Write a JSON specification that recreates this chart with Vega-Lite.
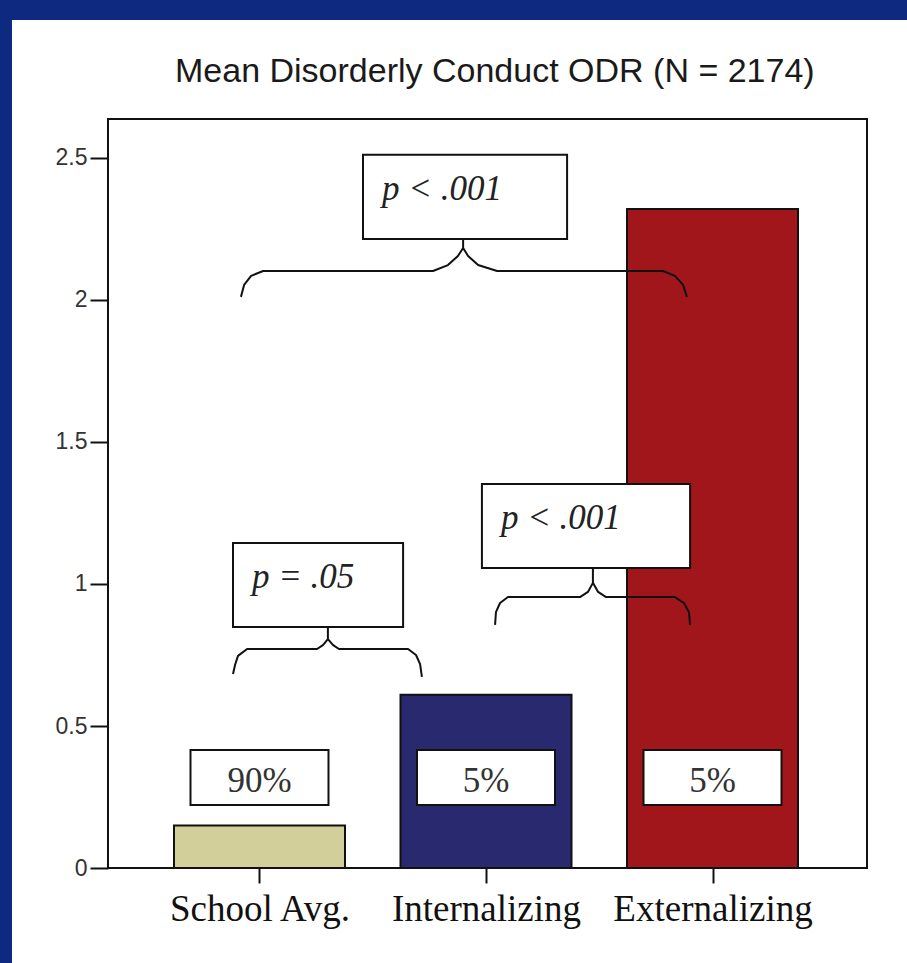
{
  "$schema": "https://vega.github.io/schema/vega-lite/v6.json",
  "width": 895,
  "height": 943,
  "autosize": {"type": "none"},
  "padding": {"left": 12, "top": 20, "right": 0, "bottom": 0},
  "background": "#0d2a80",
  "config": {"view": {"fill": "white", "stroke": null}},
  "title": {
    "text": "Mean Disorderly Conduct ODR  (N = 2174)",
    "anchor": "start",
    "frame": "group",
    "align": "left",
    "dx": 163,
    "dy": 96,
    "offset": 0,
    "baseline": "alphabetic",
    "font": "Liberation Sans",
    "fontSize": 34,
    "fontWeight": "normal",
    "color": "#1a1a1a"
  },
  "datasets": {
    "bars": [
      {"group": "School Avg.", "pos": 1, "mean": 0.15, "pct": "90%"},
      {"group": "Internalizing", "pos": 2, "mean": 0.61, "pct": "5%"},
      {"group": "Externalizing", "pos": 3, "mean": 2.32, "pct": "5%"}
    ],
    "tests": [
      {"comparison": "School Avg. vs Internalizing", "label": "p = .05", "xmin": 0.883, "xmax": 1.634, "ymin": 0.849, "ymax": 1.144},
      {"comparison": "Internalizing vs Externalizing", "label": "p < .001", "xmin": 1.982, "xmax": 2.901, "ymin": 1.056, "ymax": 1.352},
      {"comparison": "School Avg. vs Externalizing", "label": "p < .001", "xmin": 1.457, "xmax": 2.358, "ymin": 2.215, "ymax": 2.511}
    ],
    "braces": [
      {"brace": "A", "ord": 1, "x": 0.918, "y": 2.011},
      {"brace": "A", "ord": 2, "x": 0.932, "y": 2.053},
      {"brace": "A", "ord": 3, "x": 0.963, "y": 2.085},
      {"brace": "A", "ord": 4, "x": 1.016, "y": 2.102},
      {"brace": "A", "ord": 5, "x": 1.766, "y": 2.102},
      {"brace": "A", "ord": 6, "x": 1.832, "y": 2.123},
      {"brace": "A", "ord": 7, "x": 1.876, "y": 2.155},
      {"brace": "A", "ord": 8, "x": 1.899, "y": 2.183},
      {"brace": "A", "ord": 9, "x": 1.899, "y": 2.211},
      {"brace": "A", "ord": 10, "x": 1.899, "y": 2.183},
      {"brace": "A", "ord": 11, "x": 1.921, "y": 2.155},
      {"brace": "A", "ord": 12, "x": 1.965, "y": 2.123},
      {"brace": "A", "ord": 13, "x": 2.049, "y": 2.102},
      {"brace": "A", "ord": 14, "x": 2.782, "y": 2.102},
      {"brace": "A", "ord": 15, "x": 2.834, "y": 2.085},
      {"brace": "A", "ord": 16, "x": 2.870, "y": 2.053},
      {"brace": "A", "ord": 17, "x": 2.887, "y": 2.011},
      {"brace": "B", "ord": 1, "x": 2.040, "y": 0.856},
      {"brace": "B", "ord": 2, "x": 2.044, "y": 0.901},
      {"brace": "B", "ord": 3, "x": 2.062, "y": 0.933},
      {"brace": "B", "ord": 4, "x": 2.097, "y": 0.954},
      {"brace": "B", "ord": 5, "x": 2.415, "y": 0.954},
      {"brace": "B", "ord": 6, "x": 2.450, "y": 0.972},
      {"brace": "B", "ord": 7, "x": 2.472, "y": 1.004},
      {"brace": "B", "ord": 8, "x": 2.472, "y": 1.056},
      {"brace": "B", "ord": 9, "x": 2.472, "y": 1.004},
      {"brace": "B", "ord": 10, "x": 2.495, "y": 0.972},
      {"brace": "B", "ord": 11, "x": 2.530, "y": 0.954},
      {"brace": "B", "ord": 12, "x": 2.834, "y": 0.954},
      {"brace": "B", "ord": 13, "x": 2.874, "y": 0.933},
      {"brace": "B", "ord": 14, "x": 2.896, "y": 0.901},
      {"brace": "B", "ord": 15, "x": 2.901, "y": 0.856},
      {"brace": "C", "ord": 1, "x": 0.883, "y": 0.683},
      {"brace": "C", "ord": 2, "x": 0.892, "y": 0.715},
      {"brace": "C", "ord": 3, "x": 0.905, "y": 0.747},
      {"brace": "C", "ord": 4, "x": 0.945, "y": 0.771},
      {"brace": "C", "ord": 5, "x": 1.254, "y": 0.771},
      {"brace": "C", "ord": 6, "x": 1.280, "y": 0.785},
      {"brace": "C", "ord": 7, "x": 1.302, "y": 0.806},
      {"brace": "C", "ord": 8, "x": 1.302, "y": 0.849},
      {"brace": "C", "ord": 9, "x": 1.302, "y": 0.806},
      {"brace": "C", "ord": 10, "x": 1.325, "y": 0.785},
      {"brace": "C", "ord": 11, "x": 1.351, "y": 0.771},
      {"brace": "C", "ord": 12, "x": 1.656, "y": 0.771},
      {"brace": "C", "ord": 13, "x": 1.691, "y": 0.750},
      {"brace": "C", "ord": 14, "x": 1.709, "y": 0.718},
      {"brace": "C", "ord": 15, "x": 1.717, "y": 0.673}
    ]
  },
  "layer": [
    {
      "data": {"name": "bars"},
      "mark": {"type": "bar", "orient": "vertical", "width": 171, "stroke": "#111111", "strokeWidth": 2},
      "encoding": {
        "x": {
          "field": "pos",
          "type": "quantitative",
          "scale": {"domain": [-0.0927, 3.8587], "nice": false, "zero": false, "padding": 0},
          "axis": {
            "title": null,
            "orient": "bottom",
            "offset": -95,
            "values": [1, 2, 3],
            "labelExpr": "['School Avg.', 'Internalizing', 'Externalizing'][datum.value - 1]",
            "domain": false,
            "grid": false,
            "tickSize": 15,
            "tickWidth": 2,
            "tickColor": "#111111",
            "labelPadding": 8,
            "labelFont": "Liberation Serif",
            "labelFontSize": 37,
            "labelColor": "#111111",
            "labelLimit": 0,
            "labelOverlap": false,
            "labelFlush": false
          }
        },
        "y": {
          "field": "mean",
          "type": "quantitative",
          "scale": {"domain": [-0.3345, 2.9859], "nice": false, "zero": false, "padding": 0},
          "axis": {
            "title": null,
            "orient": "left",
            "offset": -96,
            "values": [0, 0.5, 1, 1.5, 2, 2.5],
            "format": "~g",
            "domain": false,
            "grid": false,
            "tickSize": 18,
            "tickWidth": 2,
            "tickColor": "#111111",
            "labelPadding": 3,
            "labelFont": "Liberation Sans",
            "labelFontSize": 23,
            "labelColor": "#333333",
            "labelOverlap": false,
            "labelFlush": false
          }
        },
        "y2": {"datum": 0},
        "color": {
          "field": "group",
          "type": "nominal",
          "scale": {"domain": ["School Avg.", "Internalizing", "Externalizing"], "range": ["#d3cf9a", "#29296f", "#a0161a"]},
          "legend": null
        }
      }
    },
    {
      "data": {"values": [{"panel": "plot frame"}]},
      "mark": {"type": "rect", "fill": null, "fillOpacity": 0, "stroke": "#111111", "strokeWidth": 2},
      "encoding": {
        "x": {"datum": 0.3311, "type": "quantitative"},
        "x2": {"datum": 3.6821},
        "y": {"datum": 0, "type": "quantitative"},
        "y2": {"datum": 2.6373}
      }
    },
    {
      "data": {"name": "bars"},
      "mark": {"type": "bar", "orient": "vertical", "width": 138, "fill": "white", "stroke": "#111111", "strokeWidth": 2},
      "encoding": {
        "x": {"field": "pos", "type": "quantitative"},
        "y": {"datum": 0.222, "type": "quantitative"},
        "y2": {"datum": 0.4155}
      }
    },
    {
      "data": {"name": "bars"},
      "mark": {"type": "text", "baseline": "alphabetic", "align": "center", "font": "Liberation Serif", "fontSize": 35, "color": "#333333"},
      "encoding": {
        "x": {"field": "pos", "type": "quantitative"},
        "y": {"datum": 0.268, "type": "quantitative"},
        "text": {"field": "pct"}
      }
    },
    {
      "data": {"name": "braces"},
      "mark": {"type": "line", "color": "#111111", "strokeWidth": 2, "strokeJoin": "round"},
      "encoding": {
        "x": {"field": "x", "type": "quantitative"},
        "y": {"field": "y", "type": "quantitative"},
        "detail": {"field": "brace"},
        "order": {"field": "ord", "type": "quantitative"}
      }
    },
    {
      "data": {"name": "tests"},
      "mark": {"type": "rect", "fill": "white", "stroke": "#111111", "strokeWidth": 2},
      "encoding": {
        "x": {"field": "xmin", "type": "quantitative"},
        "x2": {"field": "xmax"},
        "y": {"field": "ymin", "type": "quantitative"},
        "y2": {"field": "ymax"}
      }
    },
    {
      "data": {"name": "tests"},
      "mark": {"type": "text", "align": "left", "baseline": "alphabetic", "dx": 19, "dy": 45, "font": "Liberation Serif", "fontStyle": "italic", "fontSize": 35, "color": "#222222"},
      "encoding": {
        "x": {"field": "xmin", "type": "quantitative"},
        "y": {"field": "ymax", "type": "quantitative"},
        "text": {"field": "label"}
      }
    }
  ]
}
